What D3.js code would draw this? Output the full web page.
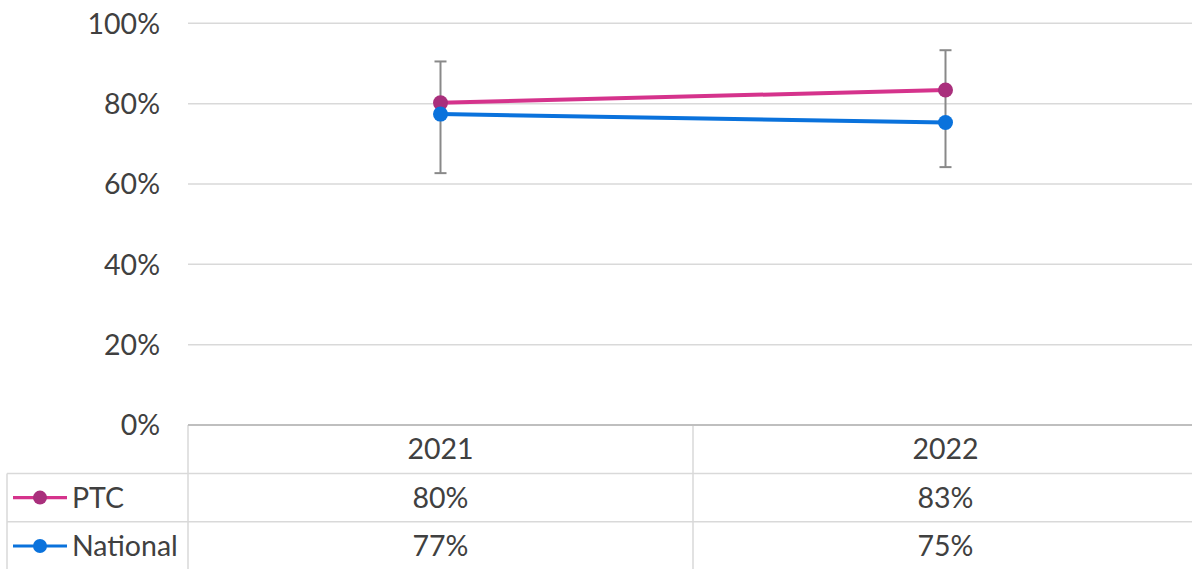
<!DOCTYPE html>
<html>
<head>
<meta charset="utf-8">
<script src="https://cdn.jsdelivr.net/npm/d3@7"></script>
<style>
  html, body { margin: 0; padding: 0; background: #fff; }
  svg { display: block; }
  text { font-family: Lato, "Open Sans", sans-serif; fill: #404040; }
</style>
</head>
<body>
<svg id="chart" width="1192" height="569"></svg>
<script>
const categories = ["2021", "2022"];
const seriesNames = ["PTC", "National"];
const ptcValues = [0.802, 0.834];
const nationalValues = [0.774, 0.753];
const ptcErrorLow = [0.627, 0.642];
const ptcErrorHigh = [0.905, 0.933];
const yTicks = [0, 0.2, 0.4, 0.6, 0.8, 1.0];
const colors = { PTC: { line: "#d5338c", marker: "#a92f7c" }, National: { line: "#0a72dc", marker: "#0a72dc" } };

(function () {
const svg = d3.select("#chart");
const W = 1192, H = 569;
const mLeft = 188, mRight = 1198, mTop = 23.3, mBottom = 425;
const rowH = 48.4;
const fontSize = "28.5px";

const x = d3.scaleBand().domain(categories).range([mLeft, mRight]);
const y = d3.scaleLinear().domain([0, 1]).range([mBottom, mTop]);

svg.append("g").selectAll("line").data(yTicks.filter(d => d > 0)).join("line")
  .attr("x1", mLeft).attr("x2", W)
  .attr("y1", d => y(d)).attr("y2", d => y(d))
  .attr("stroke", "#d9d9d9").attr("stroke-width", 1.5);

const yAxis = d3.axisLeft(y).tickValues(yTicks).tickFormat(d3.format(".0%")).tickSize(0).tickPadding(0);
const ya = svg.append("g").attr("transform", `translate(160,0)`).call(yAxis);
ya.select(".domain").remove();
ya.selectAll("text").style("font-size", fontSize).attr("fill", "#404040").attr("font-family", "Lato, sans-serif").attr("dy", "0.35em");

const tbl = svg.append("g");
const rows = [mBottom + rowH, mBottom + 2 * rowH];
rows.forEach(r => tbl.append("line").attr("x1", 7).attr("x2", W).attr("y1", r).attr("y2", r).attr("stroke", "#d9d9d9").attr("stroke-width", 1.5));
tbl.append("line").attr("x1", mLeft).attr("x2", mLeft).attr("y1", mBottom).attr("y2", H).attr("stroke", "#d9d9d9").attr("stroke-width", 1.5);
tbl.append("line").attr("x1", 7).attr("x2", 7).attr("y1", rows[0]).attr("y2", H).attr("stroke", "#d9d9d9").attr("stroke-width", 1.5);
categories.slice(1).forEach(c => tbl.append("line").attr("x1", x(c)).attr("x2", x(c)).attr("y1", mBottom).attr("y2", H).attr("stroke", "#d9d9d9").attr("stroke-width", 1.5));
svg.append("line").attr("x1", mLeft).attr("x2", W).attr("y1", mBottom).attr("y2", mBottom).attr("stroke", "#bfbfbf").attr("stroke-width", 2);

svg.append("g").selectAll("text").data(categories).join("text")
  .attr("x", d => x(d) + x.bandwidth() / 2).attr("y", mBottom + rowH / 2).attr("dy", "0.35em")
  .attr("text-anchor", "middle").style("font-size", fontSize).text(d => d);

const seriesData = [
  { name: seriesNames[0], values: ptcValues },
  { name: seriesNames[1], values: nationalValues }
];
const fmt = d3.format(".0%");

seriesData.forEach((s, i) => {
  const cy = mBottom + rowH * (i + 1) + rowH / 2;
  svg.append("g").selectAll("text").data(s.values).join("text")
    .attr("x", (d, j) => x(categories[j]) + x.bandwidth() / 2).attr("y", cy).attr("dy", "0.35em")
    .attr("text-anchor", "middle").style("font-size", fontSize).text(d => fmt(d));
  svg.append("line").attr("x1", 13).attr("x2", 67).attr("y1", cy).attr("y2", cy)
    .attr("stroke", colors[s.name].line).attr("stroke-width", 3.2);
  svg.append("circle").attr("cx", 40).attr("cy", cy).attr("r", 7).attr("fill", colors[s.name].marker);
  svg.append("text").attr("x", 72).attr("y", cy).attr("dy", "0.35em").style("font-size", fontSize).text(s.name);
});

const eb = svg.append("g").attr("stroke", "#898989").attr("stroke-width", 2);
categories.forEach((c, j) => {
  const cx = x(c) + x.bandwidth() / 2;
  eb.append("line").attr("x1", cx).attr("x2", cx).attr("y1", y(ptcErrorLow[j])).attr("y2", y(ptcErrorHigh[j]));
  eb.append("line").attr("x1", cx - 6).attr("x2", cx + 6).attr("y1", y(ptcErrorLow[j])).attr("y2", y(ptcErrorLow[j]));
  eb.append("line").attr("x1", cx - 6).attr("x2", cx + 6).attr("y1", y(ptcErrorHigh[j])).attr("y2", y(ptcErrorHigh[j]));
});

const line = d3.line().x((d, j) => x(categories[j]) + x.bandwidth() / 2).y(d => y(d));
seriesData.forEach(s => {
  svg.append("path").datum(s.values).attr("d", line).attr("fill", "none")
    .attr("stroke", colors[s.name].line).attr("stroke-width", 4);
});
seriesData.forEach(s => {
  svg.append("g").selectAll("circle").data(s.values).join("circle")
    .attr("cx", (d, j) => x(categories[j]) + x.bandwidth() / 2).attr("cy", d => y(d))
    .attr("r", 7.5).attr("fill", colors[s.name].marker);
});
})();
</script>
</body>
</html>
